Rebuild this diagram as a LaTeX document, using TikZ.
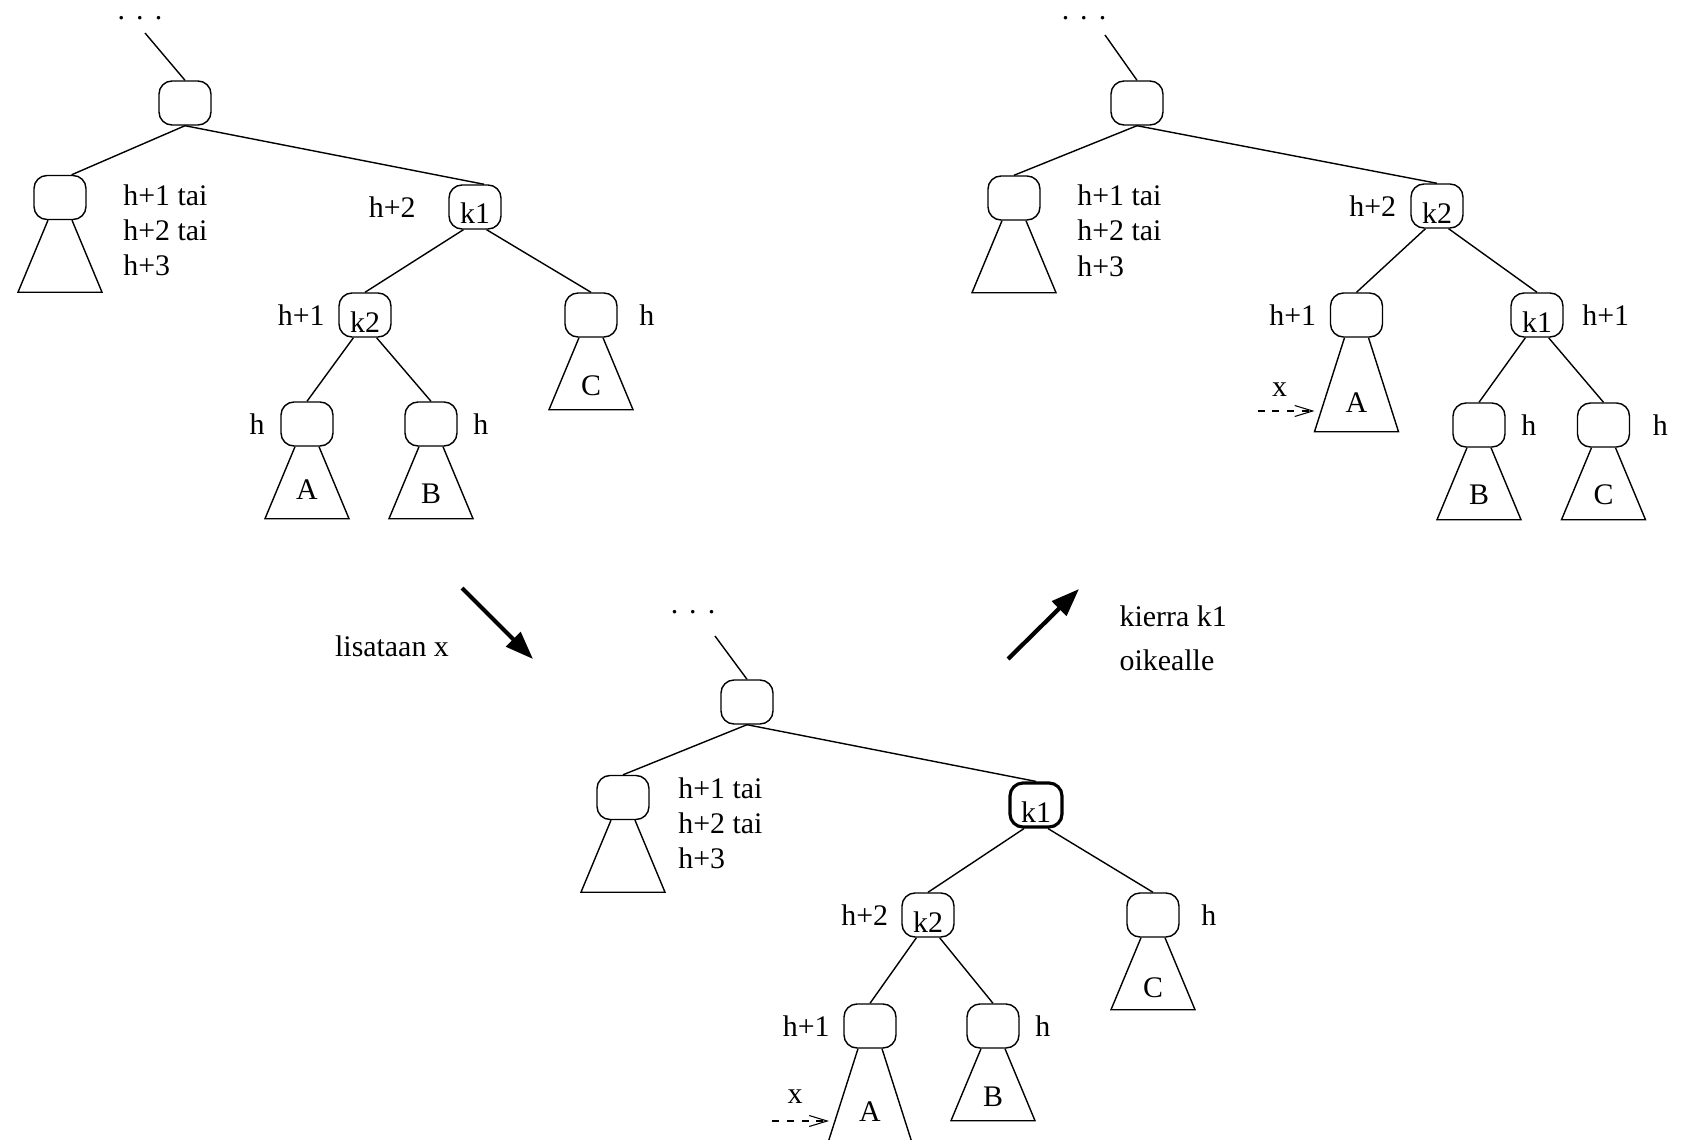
\documentclass[tikz,border=0pt]{standalone}
\usepackage{fontspec}
\setmainfont{Liberation Serif}
\usetikzlibrary{positioning,arrows.meta}

\begin{document}
\begin{tikzpicture}[
    font=\fontsize{8.5pt}{10pt}\selectfont,
    line width=0.4pt,
    solmu/.style={draw, rounded corners=0.13cm, minimum width=0.52cm, minimum height=0.44cm, inner sep=0pt, text height=0.34cm, text depth=0pt},
    valittu/.style={solmu, line width=0.9pt},
    pisteet/.style={inner sep=0pt},
    korkeus/.style={inner sep=0pt},
    vaihtoehdot/.style={align=left, inner sep=0pt},
    lisays/.style={dash pattern=on 2pt off 2.2pt, line width=0.3pt, -{Straight Barb[length=0.18cm,width=0.11cm]}},
    vaihe/.style={line width=1.2pt, -{Triangle[length=0.28cm,width=0.2cm]}}
]
    \useasboundingbox (0,0) rectangle (16.85,11.39);

    % Alkutilanne (vasen ylä)
    \begin{scope}[shift={(1.85,10.36)}]
        % Juuri ja yhteys ylöspäin
        \node[pisteet] (v-dots) at (-0.45,0.85) {.\hspace{0.37em}.\hspace{0.37em}.};
        \coordinate (v-up) at (-0.40,0.70);
        \node[solmu] (v-root) at (0,0) {};
        \draw (v-up) -- (v-root.north);

        % Solmut
        \node[solmu] (v-left) at (-1.25,-0.945) {};
        \node[solmu] (v-k1) at (2.90,-1.04) {k1};
        \node[solmu] (v-k2) at (1.80,-2.12) {k2};
        \node[solmu] (v-c) at (4.06,-2.12) {};
        \node[solmu] (v-a) at (1.22,-3.21) {};
        \node[solmu] (v-b) at (2.46,-3.21) {};

        % Kaaret
        \draw (v-root.south) -- (v-left.63);
        \draw (v-root.south) -- (v-k1.68);
        \draw (v-k1.-117) -- (v-k2.north);
        \draw (v-k1.-63) -- (v-c.north);
        \draw (v-k2.-117) -- (v-a.north);
        \draw (v-k2.-63) -- (v-b.north);

        % Alipuut
        \draw ([xshift=-0.12cm]v-left.south) -- ++(-0.30,-0.72) -- ++(0.84,0) -- ([xshift=0.12cm]v-left.south);
        \draw ([xshift=-0.12cm]v-c.south) -- ++(-0.30,-0.72) -- ++(0.84,0) -- ([xshift=0.12cm]v-c.south);
        \draw ([xshift=-0.12cm]v-a.south) -- ++(-0.30,-0.72) -- ++(0.84,0) -- ([xshift=0.12cm]v-a.south);
        \draw ([xshift=-0.12cm]v-b.south) -- ++(-0.30,-0.72) -- ++(0.84,0) -- ([xshift=0.12cm]v-b.south);
        \node (v-tc) at (4.06,-2.83) {C};
        \node (v-ta) at (1.22,-3.87) {A};
        \node (v-tb) at (2.46,-3.91) {B};

        % Korkeudet
        \node[vaihtoehdot, below right=0.09cm and 0.36cm of v-left.north east] (v-h) {h+1 tai\\h+2 tai\\h+3};
        \node[korkeus, left=0.32cm of v-k1] (v-hk1) {h+2};
        \node[korkeus, left=0.13cm of v-k2] (v-hk2) {h+1};
        \node[korkeus, right=0.21cm of v-c] (v-hc) {h};
        \node[korkeus, left=0.15cm of v-a] (v-ha) {h};
        \node[korkeus, right=0.15cm of v-b] (v-hb) {h};
    \end{scope}

    % Lisäyksen jälkeen (ala)
    \begin{scope}[shift={(7.47,4.37)}]
        % Juuri ja yhteys ylöspäin
        \node[pisteet] (a-dots) at (-0.54,0.90) {.\hspace{0.37em}.\hspace{0.37em}.};
        \coordinate (a-up) at (-0.32,0.66);
        \node[solmu] (a-root) at (0,0) {};
        \draw (a-up) -- (a-root.north);

        % Solmut
        \node[solmu] (a-left) at (-1.24,-0.955) {};
        \node[valittu] (a-k1) at (2.89,-1.03) {k1};
        \node[solmu] (a-k2) at (1.81,-2.13) {k2};
        \node[solmu] (a-c) at (4.06,-2.13) {};
        \node[solmu] (a-a) at (1.23,-3.24) {};
        \node[solmu] (a-b) at (2.46,-3.24) {};

        % Kaaret
        \draw (a-root.south) -- (a-left.north);
        \draw (a-root.south) -- (a-k1.north);
        \draw (a-k1.-117) -- (a-k2.north);
        \draw (a-k1.-63) -- (a-c.north);
        \draw (a-k2.-117) -- (a-a.north);
        \draw (a-k2.-63) -- (a-b.north);

        % Alipuut
        \draw ([xshift=-0.12cm]a-left.south) -- ++(-0.30,-0.72) -- ++(0.84,0) -- ([xshift=0.12cm]a-left.south);
        \draw ([xshift=-0.12cm]a-c.south) -- ++(-0.30,-0.72) -- ++(0.84,0) -- ([xshift=0.12cm]a-c.south);
        \draw ([xshift=-0.12cm]a-a.south) -- ++(-0.30,-0.94) -- ++(0.84,0) -- ([xshift=0.12cm]a-a.south);
        \draw ([xshift=-0.12cm]a-b.south) -- ++(-0.30,-0.72) -- ++(0.84,0) -- ([xshift=0.12cm]a-b.south);
        \node (a-tc) at (4.06,-2.86) {C};
        \node (a-ta) at (1.23,-4.10) {A};
        \node (a-tb) at (2.46,-3.95) {B};

        % Lisättävä alkio
        \node (a-x) at (0.48,-3.95) {x};
        \coordinate (a-xs) at (0.25,-4.19);
        \coordinate (a-xe) at (0.82,-4.19);
        \draw[lisays] (a-xs) -- (a-xe);

        % Korkeudet
        \node[vaihtoehdot, below right=0.02cm and 0.28cm of a-left.north east] (a-h) {h+1 tai\\h+2 tai\\h+3};
        \node[korkeus, left=0.125cm of a-k2] (a-hk2) {h+2};
        \node[korkeus, right=0.21cm of a-c] (a-hc) {h};
        \node[korkeus, left=0.13cm of a-a] (a-ha) {h+1};
        \node[korkeus, right=0.15cm of a-b] (a-hb) {h};
    \end{scope}

    % Kierron jälkeen (oikea ylä)
    \begin{scope}[shift={(11.37,10.36)}]
        % Juuri ja yhteys ylöspäin
        \node[pisteet] (o-dots) at (-0.53,0.85) {.\hspace{0.37em}.\hspace{0.37em}.};
        \coordinate (o-up) at (-0.32,0.68);
        \node[solmu] (o-root) at (0,0) {};
        \draw (o-up) -- (o-root.north);

        % Solmut
        \node[solmu] (o-left) at (-1.23,-0.95) {};
        \node[solmu] (o-k2) at (3.00,-1.03) {k2};
        \node[solmu] (o-a) at (2.195,-2.12) {};
        \node[solmu] (o-k1) at (4.00,-2.12) {k1};
        \node[solmu] (o-b) at (3.42,-3.22) {};
        \node[solmu] (o-c) at (4.665,-3.22) {};

        % Kaaret
        \draw (o-root.south) -- (o-left.north);
        \draw (o-root.south) -- (o-k2.north);
        \draw (o-k2.-117) -- (o-a.north);
        \draw (o-k2.-63) -- (o-k1.north);
        \draw (o-k1.-117) -- (o-b.north);
        \draw (o-k1.-63) -- (o-c.north);

        % Alipuut
        \draw ([xshift=-0.12cm]o-left.south) -- ++(-0.30,-0.72) -- ++(0.84,0) -- ([xshift=0.12cm]o-left.south);
        \draw ([xshift=-0.12cm]o-a.south) -- ++(-0.30,-0.94) -- ++(0.84,0) -- ([xshift=0.12cm]o-a.south);
        \draw ([xshift=-0.12cm]o-b.south) -- ++(-0.30,-0.72) -- ++(0.84,0) -- ([xshift=0.12cm]o-b.south);
        \draw ([xshift=-0.12cm]o-c.south) -- ++(-0.30,-0.72) -- ++(0.84,0) -- ([xshift=0.12cm]o-c.south);
        \node (o-ta) at (2.195,-3.00) {A};
        \node (o-tb) at (3.42,-3.92) {B};
        \node (o-tc) at (4.665,-3.92) {C};

        % Lisätty alkio
        \node (o-x) at (1.425,-2.87) {x};
        \coordinate (o-xs) at (1.205,-3.08);
        \coordinate (o-xe) at (1.775,-3.08);
        \draw[lisays] (o-xs) -- (o-xe);

        % Korkeudet
        \node[vaihtoehdot, below right=0.09cm and 0.36cm of o-left.north east] (o-h) {h+1 tai\\h+2 tai\\h+3};
        \node[korkeus, left=0.135cm of o-k2] (o-hk2) {h+2};
        \node[korkeus, left=0.13cm of o-a] (o-ha) {h+1};
        \node[korkeus, right=0.18cm of o-k1] (o-hk1) {h+1};
        \node[korkeus, right=0.15cm of o-b] (o-hb) {h};
        \node[korkeus, right=0.22cm of o-c] (o-hc) {h};
    \end{scope}

    % Vaiheiden väliset nuolet
    \coordinate (lis-alku) at (4.62,5.51);
    \coordinate (lis-loppu) at (5.33,4.80);
    \draw[vaihe] (lis-alku) -- (lis-loppu);
    \node[anchor=base] (lis-teksti) at (3.92,4.83) {lisataan x};

    \coordinate (kierto-alku) at (10.08,4.80);
    \coordinate (kierto-loppu) at (10.79,5.50);
    \draw[vaihe] (kierto-alku) -- (kierto-loppu);
    \node[align=left, anchor=north west, inner sep=0pt, font=\fontsize{8.5pt}{12.5pt}\selectfont] (kierto-teksti) at (11.19,5.335) {kierra k1\\oikealle};
\end{tikzpicture}
\end{document}
